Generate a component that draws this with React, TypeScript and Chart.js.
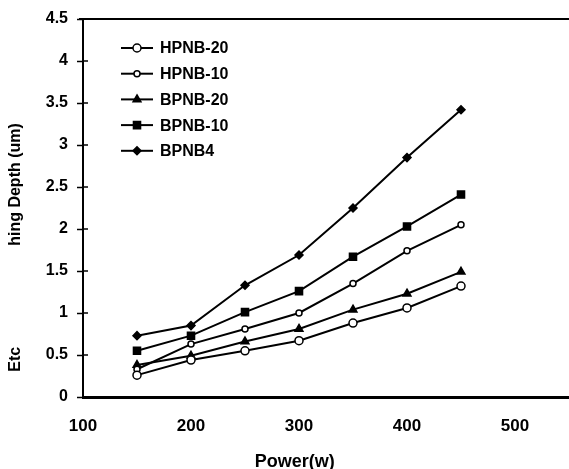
import React, { useEffect, useRef } from "react";
import { Chart, registerables } from "chart.js";
import { drawPoint } from "chart.js/helpers";

Chart.register(...registerables);

const powers = [150, 200, 250, 300, 350, 400, 450];
const hpnb20 = [0.26, 0.44, 0.55, 0.67, 0.88, 1.06, 1.32];
const hpnb10 = [0.33, 0.63, 0.81, 1.0, 1.35, 1.74, 2.05];
const bpnb20 = [0.38, 0.49, 0.66, 0.81, 1.04, 1.23, 1.49];
const bpnb10 = [0.55, 0.73, 1.01, 1.26, 1.67, 2.03, 2.41];
const bpnb4 = [0.73, 0.85, 1.33, 1.69, 2.25, 2.85, 3.42];
const seriesNames = ["HPNB-20", "HPNB-10", "BPNB-20", "BPNB-10", "BPNB4"];
const xTickValues = [100, 200, 300, 400, 500];
const yTitleMain = "hing Depth (um)";
const yTitleStart = "Etc";
const xTitle = "Power(w)";

const FONT = "'Liberation Sans', Arial, sans-serif";

const styles = [
  { pointStyle: "circle", radius: 4, bg: "#fff" },
  { pointStyle: "circle", radius: 3, bg: "#fff" },
  { pointStyle: "triangle", radius: 4.5, bg: "#000" },
  { pointStyle: "rect", radius: 5, bg: "#000" },
  { pointStyle: "rectRot", radius: 4, bg: "#000" },
];

const decorPlugin = {
  id: "decor",
  afterDraw(chart: any) {
    const ctx = chart.ctx;
    const ca = chart.chartArea;
    const yScale = chart.scales.y;
    const xScale = chart.scales.x;
    ctx.save();
    // top border
    ctx.strokeStyle = "#000";
    ctx.lineWidth = 2;
    ctx.beginPath();
    ctx.moveTo(ca.left - 4, ca.top);
    ctx.lineTo(ca.right, ca.top);
    ctx.stroke();
    // inward tick marks on y axis
    ctx.lineWidth = 1.5;
    yScale.ticks.forEach((t: any) => {
      const py = yScale.getPixelForValue(t.value);
      ctx.beginPath();
      ctx.moveTo(ca.left, py);
      ctx.lineTo(ca.left + 5, py);
      ctx.stroke();
    });
    // y axis title (two pieces)
    ctx.fillStyle = "#000";
    ctx.font = `bold 16px ${FONT}`;
    ctx.textAlign = "center";
    ctx.textBaseline = "middle";
    ctx.save();
    ctx.translate(16, yScale.getPixelForValue(2.53));
    ctx.rotate(-Math.PI / 2);
    ctx.fillText(yTitleMain, 0, 0);
    ctx.restore();
    ctx.save();
    ctx.translate(16, yScale.getPixelForValue(0.45));
    ctx.rotate(-Math.PI / 2);
    ctx.fillText(yTitleStart, 0, 0);
    ctx.restore();
    // x axis title
    ctx.font = `bold 18px ${FONT}`;
    ctx.fillText(xTitle, xScale.getPixelForValue(296), ca.bottom + 65);
    // legend
    const lx = ca.left + 38;
    const ly = ca.top + 29;
    const rowH = 25.7;
    chart.data.datasets.forEach((ds: any, i: number) => {
      const y = ly + i * rowH;
      ctx.strokeStyle = "#000";
      ctx.lineWidth = 2;
      ctx.beginPath();
      ctx.moveTo(lx, y);
      ctx.lineTo(lx + 32, y);
      ctx.stroke();
      ctx.fillStyle = ds.pointBackgroundColor;
      ctx.strokeStyle = "#000";
      ctx.lineWidth = 1.5;
      drawPoint(ctx, { pointStyle: ds.pointStyle, radius: ds.pointRadius, rotation: 0, borderWidth: 1.5 } as any, lx + 16, y);
      ctx.fillStyle = "#000";
      ctx.font = `bold 16px ${FONT}`;
      ctx.textAlign = "left";
      ctx.textBaseline = "middle";
      ctx.fillText(ds.label, lx + 39, y + 1);
    });
    ctx.restore();
  },
};

export default function App() {
  const ref = useRef<HTMLCanvasElement>(null);
  useEffect(() => {
    const seriesData = [hpnb20, hpnb10, bpnb20, bpnb10, bpnb4];
    const chart = new Chart(ref.current!, {
      type: "line",
      data: {
        datasets: seriesData.map((vals, i) => ({
          label: seriesNames[i],
          data: vals.map((v, j) => ({ x: powers[j], y: v })),
          borderColor: "#000",
          borderWidth: 2,
          pointStyle: styles[i].pointStyle as any,
          pointRadius: styles[i].radius,
          pointBackgroundColor: styles[i].bg,
          pointBorderColor: "#000",
          pointBorderWidth: 1.5,
          tension: 0,
          fill: false,
        })),
      },
      options: {
        animation: false,
        responsive: true,
        maintainAspectRatio: false,
        layout: { autoPadding: false, padding: { top: 19, left: 0, right: 0, bottom: 0 } },
        plugins: { legend: { display: false }, tooltip: { enabled: false } },
        scales: {
          x: {
            type: "linear",
            min: 100,
            max: 550,
            afterBuildTicks: (scale: any) => {
              scale.ticks = xTickValues.map((v) => ({ value: v }));
            },
            afterFit: (scale: any) => {
              scale.height = 72;
              scale.paddingRight = 0;
              scale.paddingLeft = 0;
            },
            grid: { display: false },
            border: { display: true, color: "#000", width: 3 },
            ticks: {
              color: "#000",
              font: { family: FONT, size: 17, weight: "bold" },
              padding: 11,
              maxRotation: 0,
            },
            title: { display: false },
          },
          y: {
            min: 0,
            max: 4.5,
            afterFit: (scale: any) => {
              scale.width = 83;
            },
            ticks: {
              stepSize: 0.5,
              color: "#000",
              font: { family: FONT, size: 16, weight: "bold" },
              padding: 9,
              callback: (v: any) => String(Number(v)),
            },
            grid: {
              display: true,
              drawOnChartArea: false,
              drawTicks: true,
              tickLength: 6,
              tickColor: "#000",
              tickWidth: 1.5,
            },
            border: { display: true, color: "#000", width: 2 },
          },
        },
      },
      plugins: [decorPlugin],
    });
    return () => chart.destroy();
  }, []);
  return (
    <div style={{ position: "absolute", left: 0, top: 0, width: 569, height: 469, background: "#fff", overflow: "hidden" }}>
      <canvas ref={ref} style={{ display: "block" }} />
    </div>
  );
}
